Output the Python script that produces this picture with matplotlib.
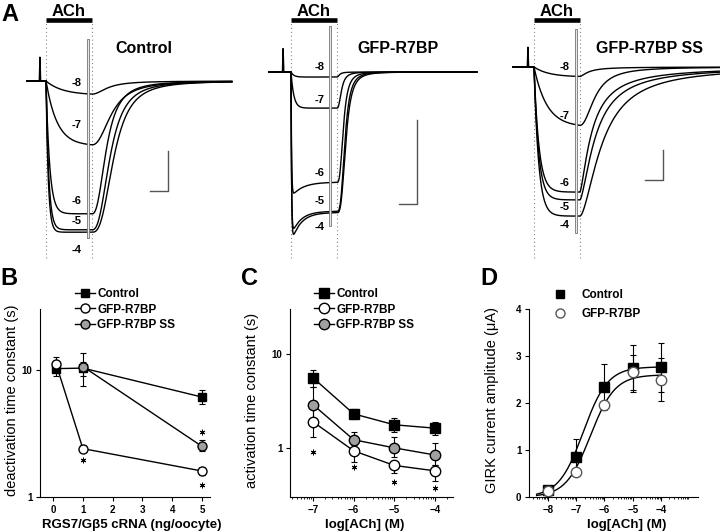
import numpy as np
import matplotlib.pyplot as plt
from matplotlib.lines import Line2D
from matplotlib.ticker import NullLocator, FixedLocator

plt.rcParams['font.family'] = ['Liberation Sans', 'DejaVu Sans']
plt.rcParams['font.weight'] = 'bold'

W, H = 720, 532

# ---------------- data ----------------
conc_labels = ['-8', '-7', '-6', '-5', '-4']
ach_dur = 25.0  # s of ACh application

# A: one entry per log[ACh] (-8 .. -4)
# amplitude (uA), activation tau (s), fraction left after desensitisation,
# desensitisation tau (s), deactivation half time (s), deactivation steepness
ctrl_amp = [0.35, 1.62, 3.32, 3.72, 3.78]
ctrl_ton = [9.0, 6.0, 2.0, 1.5, 1.2]
ctrl_frac = [1.0, 1.0, 1.0, 1.0, 1.0]
ctrl_tdes = [5.0, 5.0, 5.0, 5.0, 5.0]
ctrl_t50 = [9.0, 11.0, 8.0, 10.0, 12.0]
ctrl_n = [2.0, 2.3, 2.5, 2.6, 2.8]

gfp_amp = [0.06, 0.43, 1.49, 1.95, 2.04]
gfp_ton = [1.5, 1.5, 0.3, 0.3, 0.3]
gfp_frac = [1.0, 1.0, 0.88, 0.85, 0.82]
gfp_tdes = [5.0, 5.0, 6.0, 5.0, 5.0]
gfp_t50 = [1.5, 2.5, 3.5, 4.3, 4.8]
gfp_n = [2.0, 2.5, 3.0, 3.2, 3.2]

ss_amp = [0.33, 2.0, 4.17, 4.43, 4.97]
ss_ton = [8.0, 7.0, 2.7, 2.5, 2.5]
ss_frac = [1.0, 1.0, 1.0, 1.0, 1.0]
ss_tdes = [5.0, 5.0, 5.0, 5.0, 5.0]
ss_t50 = [5.0, 8.5, 6.8, 9.0, 12.5]
ss_n = [1.5, 2.1, 1.4, 1.5, 1.66]

rec_titles = ['Control', 'GFP-R7BP', 'GFP-R7BP SS']
spike_t = [-3.3, -4.3, -3.3]
spike_h = [0.62, 0.29, 0.67]
art_t = [22.8, 21.2, 22.8]
art_top = [1.03, 0.54, 1.23]
art_bot = [-3.9, -1.82, -5.5]
rec_start = [-10.3, -12.0, -11.4]
rec_end = [101.0, 101.0, 101.0]

# B: deactivation time constant vs RGS7/Gb5 cRNA
dose_ctrl = [0.1, 1, 5]
deact_ctrl = [10.2, 10.3, 6.1]
deact_ctrl_lo = [9.0, 9.0, 5.4]
deact_ctrl_hi = [11.5, 11.5, 6.9]
dose_r7bp = [0.1, 1, 5]
deact_r7bp = [11.1, 2.4, 1.6]
deact_r7bp_lo = [9.6, 2.3, 1.5]
deact_r7bp_hi = [12.6, 2.55, 1.72]
dose_ss = [1, 5]
deact_ss = [10.6, 2.5]
deact_ss_lo = [7.5, 2.3]
deact_ss_hi = [13.6, 2.8]
starB_x = [1, 5, 5]
starB_y = [1.95, 3.25, 1.24]

# C: activation time constant vs log[ACh]
logach_c = [-7, -6, -5, -4]
act_ctrl = [5.55, 2.3, 1.76, 1.62]
act_ctrl_lo = [4.4, 2.03, 1.48, 1.37]
act_ctrl_hi = [6.7, 2.6, 2.08, 1.89]
act_ss = [2.87, 1.22, 1.0, 0.84]
act_ss_lo = [1.8, 0.95, 0.8, 0.66]
act_ss_hi = [4.4, 1.48, 1.3, 1.13]
act_r7bp = [1.89, 0.93, 0.65, 0.57]
act_r7bp_lo = [1.3, 0.71, 0.54, 0.44]
act_r7bp_hi = [2.7, 1.08, 0.71, 0.66]
starC_x = [-7, -6, -5, -4]
starC_y = [0.9, 0.63, 0.43, 0.37]

# D: GIRK current amplitude vs log[ACh]
logach_d = [-8, -7, -6, -5, -4]
amp_ctrl = [0.15, 0.85, 2.35, 2.74, 2.76]
amp_ctrl_err = [0.04, 0.38, 0.47, 0.5, 0.52]
amp_r7bp = [0.12, 0.53, 1.95, 2.65, 2.5]
amp_r7bp_err = [0.03, 0.05, 0.1, 0.38, 0.45]
# Hill fits: max (uA), log EC50, Hill slope
fit_ctrl = [2.77, -6.75, 1.0]
fit_r7bp = [2.6, -6.5, 1.0]


def box(x0, y0, x1, y1):
    return [x0 / W, 1 - y1 / H, (x1 - x0) / W, (y1 - y0) / H]


def girk_trace(t, amp, ton, frac, tdes, t50, n):
    t_on = np.clip(t, 0, ach_dur)
    on = -amp * (1 - np.exp(-t_on / ton)) * (frac + (1 - frac) * np.exp(-t_on / tdes))
    dt = np.clip(t - ach_dur, 0, None)
    return on / (1 + (dt / t50) ** n)


fig = plt.figure(figsize=(7.2, 5.32), dpi=100)

# ---------------- A ----------------
PPS = 1.84      # px per second
TOP_H = 260
box_x = [(0, 240), (240, 480), (480, 720)]
ach_px = [46, 291, 534]
base_px = [81, 72, 67]
px_per_ua = [40, 84, 30]
title_px = [(144, 53), (398, 53), (649, 53)]
bar_corner = [(168, 191), (417, 204), (663, 180)]
lab_dx = [-15, -17, -15]
lab_dy = [[11, 20, 13, 9, -18], [10, 8, 9, 10, -14], [9, 9, 9, -7, -9]]

params = [
    (ctrl_amp, ctrl_ton, ctrl_frac, ctrl_tdes, ctrl_t50, ctrl_n),
    (gfp_amp, gfp_ton, gfp_frac, gfp_tdes, gfp_t50, gfp_n),
    (ss_amp, ss_ton, ss_frac, ss_tdes, ss_t50, ss_n),
]

for k in range(3):
    xa, xb = box_x[k]
    ax = fig.add_axes(box(xa, 0, xb, TOP_H))
    ax.set_xlim((xa - ach_px[k]) / PPS, (xb - ach_px[k]) / PPS)
    ax.set_ylim((base_px[k] - TOP_H) / px_per_ua[k], base_px[k] / px_per_ua[k])
    ax.axis('off')

    # dotted lines marking the application
    for xv in (0, ach_dur):
        ax.axvline(xv, ymin=2 / TOP_H, ymax=238 / TOP_H, color='#888888',
                   ls=(0, (1, 2.5)), lw=0.8)
    # ACh bar
    ybar = (base_px[k] - 20) / px_per_ua[k]
    ax.plot([0, ach_dur], [ybar, ybar], color='k', lw=3.3, solid_capstyle='butt')
    ax.text(ach_dur / 2, (base_px[k] - 16.5) / px_per_ua[k], 'ACh',
            ha='center', va='baseline', fontsize=12)

    t = np.linspace(rec_start[k], rec_end[k], 4000)
    amps, tons, fracs, tdess, t50s, ns = params[k]
    for i in range(5):
        y = girk_trace(t, amps[i], tons[i], fracs[i], tdess[i], t50s[i], ns[i])
        if i == 0:
            y = y + spike_h[k] * np.clip(1 - np.abs(t - spike_t[k]) / 0.35, 0, None)
        ax.plot(t, y, color='k', lw=1.0)
        y_end = girk_trace(ach_dur, amps[i], tons[i], fracs[i], tdess[i], t50s[i], ns[i])
        ax.annotate(conc_labels[i], xy=(ach_dur, y_end),
                    xytext=(lab_dx[k], lab_dy[k][i]), textcoords='offset pixels',
                    ha='center', va='center', fontsize=8)

    # stimulus artifact
    ax.plot([art_t[k]] * 2, [art_bot[k], art_top[k]], color='#7a7a7a', lw=2.0)
    ax.plot([art_t[k]] * 2, [art_bot[k], art_top[k]], color='white', lw=0.6)

    # scale bar: 10 s, 1 uA
    cx, cy = bar_corner[k]
    tc = (cx - ach_px[k]) / PPS
    yc = (base_px[k] - cy) / px_per_ua[k]
    ax.plot([tc - 10, tc, tc], [yc, yc, yc + 1], color='#555555', lw=1.0)

    fig.text(title_px[k][0] / W, 1 - title_px[k][1] / H, rec_titles[k],
             ha='center', va='baseline', fontsize=11.5)

# panel letters
for lab, (px, py) in zip('ABCD', [(10, 21), (9, 285), (249, 285), (489, 285)]):
    fig.text(px / W, 1 - py / H, lab, ha='center', va='baseline', fontsize=17)


def style_axis(ax):
    for s in ('top', 'right'):
        ax.spines[s].set_visible(False)
    for s in ('left', 'bottom'):
        ax.spines[s].set_linewidth(0.8)
    ax.tick_params(which='major', direction='out', length=3, width=0.8,
                   labelsize=7, pad=2.5)
    ax.tick_params(which='minor', direction='out', length=1.5, width=0.6)


def ebar(lo, y, hi):
    return [np.subtract(y, lo), np.subtract(hi, y)]


GRAY = '#a0a0a0'
ctrl_kw = dict(color='k', marker='s', mfc='k', mec='k', lw=1, elinewidth=0.8,
               capsize=2, capthick=0.8)
r7bp_kw = dict(color='k', marker='o', mfc='white', mec='k', lw=1, elinewidth=0.8,
               capsize=2, capthick=0.8)
ss_kw = dict(color='k', marker='o', mfc=GRAY, mec='k', lw=1, elinewidth=0.8,
             capsize=2, capthick=0.8)
star_kw = dict(ls='none', marker=(6, 2, 0), ms=4, color='k', mew=0.7)

# ---------------- B ----------------
axB = fig.add_axes(box(40, 309, 210, 497))
axB.errorbar(dose_ctrl, deact_ctrl, yerr=ebar(deact_ctrl_lo, deact_ctrl, deact_ctrl_hi),
             ms=6, **ctrl_kw)
axB.errorbar(dose_r7bp, deact_r7bp, yerr=ebar(deact_r7bp_lo, deact_r7bp, deact_r7bp_hi),
             ms=6.5, **r7bp_kw)
axB.errorbar(dose_ss, deact_ss, yerr=ebar(deact_ss_lo, deact_ss, deact_ss_hi),
             ms=6.5, **ss_kw)
axB.plot(starB_x, starB_y, **star_kw)
axB.set_yscale('log')
axB.set_ylim(1, 30)
axB.set_xlim(-0.44, 5.27)
axB.set_xticks([0, 1, 2, 3, 4, 5])
axB.yaxis.set_major_locator(FixedLocator([1, 10]))
axB.set_yticklabels(['1', '10'])
axB.yaxis.set_minor_locator(NullLocator())
style_axis(axB)

# ---------------- C ----------------
axC = fig.add_axes(box(290, 309, 453, 497))
axC.errorbar(logach_c, act_ctrl, yerr=ebar(act_ctrl_lo, act_ctrl, act_ctrl_hi),
             ms=7, **ctrl_kw)
axC.errorbar(logach_c, act_ss, yerr=ebar(act_ss_lo, act_ss, act_ss_hi),
             ms=7.5, **ss_kw)
axC.errorbar(logach_c, act_r7bp, yerr=ebar(act_r7bp_lo, act_r7bp, act_r7bp_hi),
             ms=7.5, **r7bp_kw)
axC.plot(starC_x, starC_y, **star_kw)
axC.set_yscale('log')
axC.set_ylim(0.3, 30)
axC.set_xlim(-7.57, -3.55)
axC.set_xticks([-7, -6, -5, -4])
axC.yaxis.set_major_locator(FixedLocator([1, 10]))
axC.set_yticklabels(['1', '10'])
axC.yaxis.set_minor_locator(NullLocator())
minors = [d + np.log10(m) for d in range(-9, -3) for m in range(2, 10)]
axC.xaxis.set_minor_locator(FixedLocator([v for v in minors if -7.57 < v < -3.55]))
style_axis(axC)

# ---------------- D ----------------
axD = fig.add_axes(box(529, 309, 698, 497))
xfit = np.linspace(-8.4, -4, 200)
for top, ec50, nh in (fit_ctrl, fit_r7bp):
    axD.plot(xfit, top / (1 + 10 ** ((ec50 - xfit) * nh)), color='k', lw=1)
axD.errorbar(logach_d, amp_ctrl, yerr=amp_ctrl_err, ls='none', marker='s', ms=7,
             mfc='k', mec='k', ecolor='k', elinewidth=0.8, capsize=2, capthick=0.8)
axD.errorbar(logach_d, amp_r7bp, yerr=amp_r7bp_err, ls='none', marker='o', ms=7.5,
             mfc='white', mec='#555555', ecolor='k', elinewidth=0.8, capsize=2,
             capthick=0.8)
axD.set_ylim(0, 4)
axD.set_xlim(-8.67, -2.69)
axD.set_xticks([-8, -7, -6, -5, -4])
axD.set_yticks([0, 1, 2, 3, 4])
axD.xaxis.set_minor_locator(FixedLocator([v for v in minors if -8.67 < v < -3.0]))
style_axis(axD)

# ---------------- legends ----------------
h_ctrl = Line2D([], [], color='k', marker='s', mfc='k', mec='k', ms=6, lw=1)
h_r7bp = Line2D([], [], color='k', marker='o', mfc='white', mec='k', ms=6.5, lw=1)
h_ss = Line2D([], [], color='k', marker='o', mfc=GRAY, mec='k', ms=6.5, lw=1)
leg_kw = dict(loc='upper left', bbox_transform=fig.transFigure, frameon=False,
              fontsize=8.5, borderpad=0, borderaxespad=0, handlelength=1.7,
              handletextpad=0.2, labelspacing=0.3)
axB.legend([h_ctrl, h_r7bp, h_ss], ['Control', 'GFP-R7BP', 'GFP-R7BP SS'],
           bbox_to_anchor=(75 / W, 1 - 288 / H), **leg_kw)
hc = Line2D([], [], color='k', marker='s', mfc='k', mec='k', ms=7, lw=1)
hr = Line2D([], [], color='k', marker='o', mfc='white', mec='k', ms=7.5, lw=1)
hs = Line2D([], [], color='k', marker='o', mfc=GRAY, mec='k', ms=7.5, lw=1)
axC.legend([hc, hr, hs], ['Control', 'GFP-R7BP', 'GFP-R7BP SS'],
           bbox_to_anchor=(314 / W, 1 - 288 / H), **leg_kw)
hd1 = Line2D([], [], ls='none', marker='s', mfc='k', mec='k', ms=6)
hd2 = Line2D([], [], ls='none', marker='o', mfc='white', mec='#555555', ms=6.5)
axD.legend([hd1, hd2], ['Control', 'GFP-R7BP'], loc='upper left',
           bbox_to_anchor=(554 / W, 1 - 289 / H), bbox_transform=fig.transFigure,
           frameon=False, fontsize=8.5, borderpad=0, borderaxespad=0,
           handlelength=1.0, handletextpad=1.3, labelspacing=0.6)

# ---------------- axis titles ----------------
for x, txt in ((12, 'deactivation time constant (s)'),
               (252, 'activation time constant (s)'),
               (492, 'GIRK current amplitude (\u03bcA)')):
    fig.text(x / W, 1 - 400 / H, txt, rotation=90, ha='center', va='center',
             fontsize=10.5, fontweight='normal')
for x, txt in ((132, 'RGS7/G\u03b25 cRNA (ng/oocyte)'),
               (365, 'log[ACh] (M)'),
               (627, 'log[ACh] (M)')):
    fig.text(x / W, 1 - 528 / H, txt, ha='center', va='baseline', fontsize=9.5)

fig.savefig('out.png', dpi=100)
